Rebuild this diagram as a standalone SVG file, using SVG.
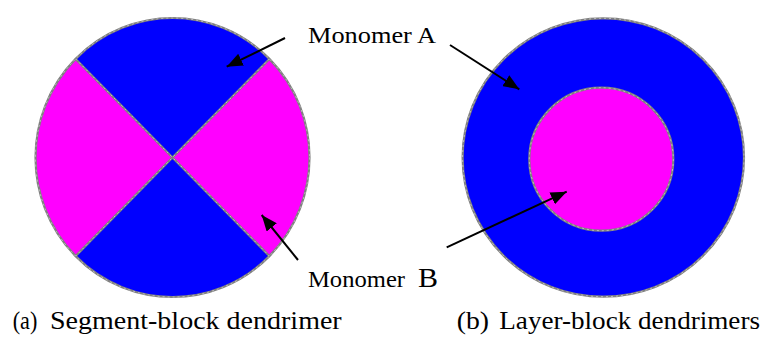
<svg xmlns="http://www.w3.org/2000/svg" width="762" height="340" viewBox="0 0 762 340">
<defs>
<marker id="ah" markerUnits="userSpaceOnUse" markerWidth="17" markerHeight="13" refX="16" refY="6.5" orient="auto">
<path d="M0,0 L16,6.5 L0,13 Z" fill="#000"/>
</marker>
<style>
.blue{fill:#0000FF}
.mag{fill:#FF00FF}
.edge{fill:none;stroke:#808080;stroke-width:2.2}
.edgehi{fill:none;stroke:#d8d8d8;stroke-width:0.7;stroke-dasharray:2 3}
.arrow{stroke:#000;stroke-width:2;fill:none;marker-end:url(#ah)}
text{font-family:'Liberation Serif','Times New Roman','DejaVu Serif',serif;fill:#000}
</style>
</defs>
<rect width="762" height="340" fill="#ffffff"/>
<g id="segment-block">
<ellipse class="blue" cx="172.5" cy="157.5" rx="137" ry="139.5"/>
<path class="mag" d="M172.5,157.5 L269.4,58.9 A137,139.5 0 0 1 269.4,256.1 Z"/>
<path class="mag" d="M172.5,157.5 L75.6,256.1 A137,139.5 0 0 1 75.6,58.9 Z"/>
<path class="edge" d="M75.6,58.9 L269.4,256.1 M269.4,58.9 L75.6,256.1"/>
<ellipse class="edge" cx="172.5" cy="157.5" rx="137" ry="139.5"/>
<path class="edgehi" d="M75.6,58.9 L269.4,256.1 M269.4,58.9 L75.6,256.1"/>
<ellipse class="edgehi" cx="172.5" cy="157.5" rx="137" ry="139.5"/>
</g>
<g id="layer-block">
<ellipse class="blue" cx="603.3" cy="157.5" rx="140.7" ry="139.2"/>
<ellipse class="edge" cx="603.3" cy="157.5" rx="140.7" ry="139.2"/>
<ellipse class="edgehi" cx="603.3" cy="157.5" rx="140.7" ry="139.2"/>
<ellipse class="mag" cx="601.3" cy="159.2" rx="72" ry="71.5"/>
<ellipse class="edge" cx="601.3" cy="159.2" rx="72" ry="71.5"/>
<ellipse class="edgehi" cx="601.3" cy="159.2" rx="72" ry="71.5"/>
</g>
<g id="label-monomer-a">
<text x="308" y="43" font-size="24" textLength="128" lengthAdjust="spacingAndGlyphs">Monomer A</text>
</g>
<g id="label-monomer-b">
<text x="308" y="287" font-size="24" textLength="97" lengthAdjust="spacingAndGlyphs">Monomer</text>
<text x="418" y="287" font-size="28" textLength="20" lengthAdjust="spacingAndGlyphs">B</text>
</g>
<g id="caption-a">
<text x="12.7" y="329" font-size="25" textLength="24.6" lengthAdjust="spacingAndGlyphs">(a)</text>
<text x="50" y="329" font-size="25" textLength="291.7" lengthAdjust="spacingAndGlyphs">Segment-block dendrimer</text>
</g>
<g id="caption-b">
<text x="456.7" y="329" font-size="25" textLength="32.3" lengthAdjust="spacingAndGlyphs">(b)</text>
<text x="499.3" y="329" font-size="25" textLength="260.7" lengthAdjust="spacingAndGlyphs">Layer-block dendrimers</text>
</g>
<g id="connectors">
<line class="arrow" x1="285" y1="38" x2="226.7" y2="66.7"/>
<line class="arrow" x1="298" y1="260" x2="261.7" y2="215"/>
<line class="arrow" x1="450" y1="45" x2="519.3" y2="89.3"/>
<line class="arrow" x1="446.7" y1="247.3" x2="566.7" y2="191.7"/>
</g>
</svg>
